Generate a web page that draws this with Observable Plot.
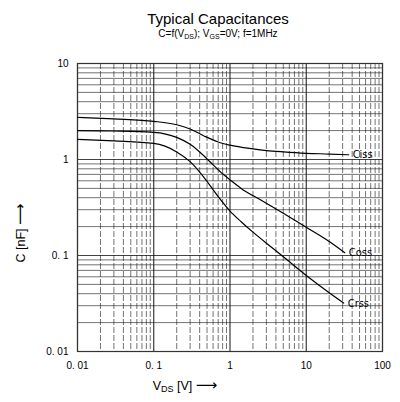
<!DOCTYPE html>
<html><head><meta charset="utf-8">
<script src="https://cdn.jsdelivr.net/npm/d3@7"></script>
<script src="https://cdn.jsdelivr.net/npm/@observablehq/plot@0.6"></script>
<style>body{margin:0;background:#fff}#chart svg{display:block}</style>
</head><body><div id="chart"></div>
<script>
// Data
const cissV = [0.01,0.03,0.1,0.2,0.3,0.45,0.7,1,2,3,5,10,20,36];
const cissC = [2.75,2.65,2.5,2.3,2.08,1.77,1.52,1.41,1.29,1.24,1.2,1.16,1.14,1.12];
const cossV = [0.01,0.03,0.1,0.2,0.3,0.45,0.6,0.8,1,1.4,2.5,5,10,20,32];
const cossC = [2.0,1.98,1.92,1.7,1.44,1.1,0.88,0.71,0.615,0.5,0.38,0.275,0.197,0.14,0.107];
const crssV = [0.01,0.03,0.1,0.2,0.3,0.45,0.7,1,1.4,2,3.5,5,10,20,31];
const crssC = [1.62,1.56,1.47,1.2,0.95,0.66,0.41,0.29,0.225,0.175,0.122,0.097,0.062,0.041,0.032];
const seriesNames = ["Ciss","Coss","Crss"];

const xTicks = [0.01,0.1,1,10,100];
const xTickLabels = ["0. 01","0. 1","1","10","100"];
const yTicks = [0.01,0.1,1,10];
const yTickLabels = ["0. 01","0. 1","1","10"];

const title = "Typical Capacitances";

const toRows = (name, V, C) => V.map((v,i)=>({series:name, v, c:C[i]}));
const rows = [...toRows("Ciss",cissV,cissC), ...toRows("Coss",cossV,cossC), ...toRows("Crss",crssV,crssC)];
const ends = seriesNames.map(n => rows.filter(r=>r.series===n).at(-1));

const minor = (lo, hi) => { const out=[]; for (let d=lo; d<hi; d*=10) for (let k=2;k<=9;k++) out.push(+(d*k).toPrecision(3)); return out; };
const minorX = minor(0.01, 100);
const minorY = minor(0.01, 10);

const W = 400, H = 402;
const plot = Plot.plot({
  width: W, height: H,
  marginTop: 63, marginLeft: 77, marginRight: 18, marginBottom: 51,
  style: {fontFamily: "'Liberation Sans', Arial, sans-serif", fontSize: "10px", color: "#000", background: "#fff"},
  x: {type: "log", domain: [0.01, 100]},
  y: {type: "log", domain: [0.01, 10]},
  marks: [
    Plot.gridY(minorY, {stroke: "#222", strokeOpacity: 0.7, strokeWidth: 0.9}),
    Plot.gridY(yTicks, {stroke: "#222", strokeOpacity: 0.85, strokeWidth: 1}),
    Plot.gridX(minorX, {stroke: "#222", strokeOpacity: 0.7, strokeWidth: 0.9, strokeDasharray: "6,2"}),
    Plot.gridX(xTicks, {stroke: "#111", strokeOpacity: 0.9, strokeWidth: 1.1}),
    Plot.frame({stroke: "#333", strokeWidth: 1.2}),
    Plot.line(rows, {x: "v", y: "c", z: "series", stroke: "#000", strokeWidth: 1.2, curve: "monotone-x"}),
    Plot.text(ends, {x: "v", y: "c", text: "series", textAnchor: "start", dx: 4, fontSize: 11, fill: "#000",
      fontFamily: "'DejaVu Sans Condensed', 'Liberation Sans Narrow', sans-serif", letterSpacing: "0.5px"}),
    Plot.axisX({ticks: xTicks, tickFormat: (d) => xTickLabels[xTicks.indexOf(d)], tickSize: 0, tickPadding: 10, label: null, fontSize: 10}),
    Plot.axisY({ticks: yTicks, tickFormat: (d) => yTickLabels[yTicks.indexOf(d)], tickSize: 0, tickPadding: 9, label: null, fontSize: 10})
  ]
});
document.getElementById("chart").append(plot);

const svg = d3.select(plot);
const ff = "'Liberation Sans', Arial, sans-serif";
svg.append("text").attr("x", 218).attr("y", 24).attr("text-anchor", "middle")
  .attr("font-family", ff).attr("font-size", 15).attr("fill", "#000").text(title);
const sub = svg.append("text").attr("x", 218).attr("y", 37).attr("text-anchor", "middle")
  .attr("font-family", ff).attr("font-size", 10).attr("fill", "#000");
sub.append("tspan").text("C=f(V");
sub.append("tspan").attr("font-size", 7).attr("dy", 1.5).text("DS");
sub.append("tspan").attr("dy", -1.5).text("); V");
sub.append("tspan").attr("font-size", 7).attr("dy", 1.5).text("GS");
sub.append("tspan").attr("dy", -1.5).text("=0V; f=1MHz");

const xl = svg.append("text").attr("x", 185).attr("y", 390).attr("font-family", ff).attr("font-size", 12.5).attr("fill", "#000");
xl.append("tspan").text("V");
xl.append("tspan").attr("font-size", 9).attr("dy", 1.5).text("DS");
xl.append("tspan").attr("dy", -1.5).text(" [V] ");
xl.append("tspan").attr("font-family", "'DejaVu Sans', sans-serif").attr("font-size", 15).text("⟶");

const yl = svg.append("text").attr("transform", "translate(25,233) rotate(-90)").attr("font-family", ff).attr("font-size", 12.5).attr("fill", "#000");
yl.append("tspan").text("C [nF] ");
yl.append("tspan").attr("font-family", "'DejaVu Sans', sans-serif").attr("font-size", 15).text("⟶");
</script>
</body></html>
